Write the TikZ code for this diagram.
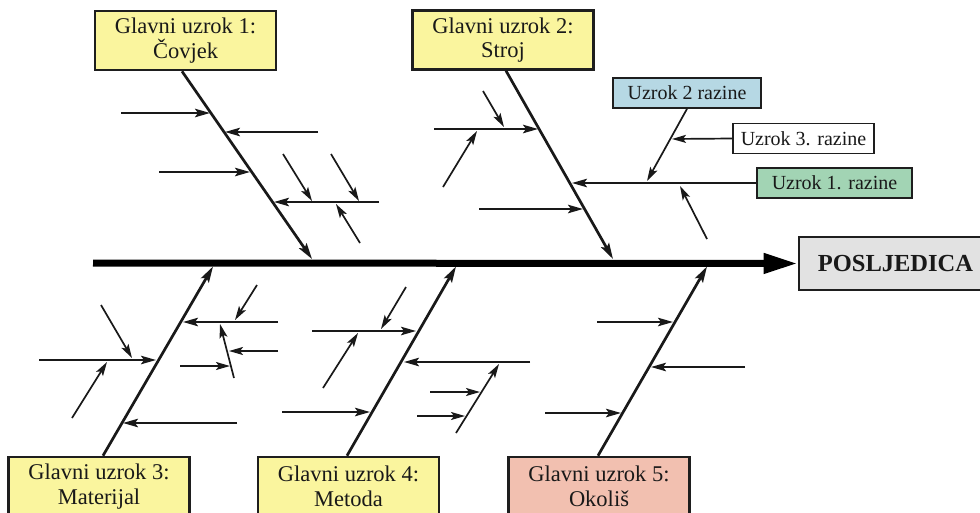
\documentclass[tikz,border=0pt]{standalone}
\usepackage{fontspec}
\setmainfont{Liberation Serif}
\usetikzlibrary{arrows.meta}
\definecolor{ybox}{RGB}{250,245,158}
\definecolor{bbox}{RGB}{182,216,228}
\definecolor{gbox}{RGB}{162,212,180}
\definecolor{pbox}{RGB}{242,192,176}
\definecolor{greybox}{RGB}{226,226,226}
\definecolor{edge}{RGB}{30,30,30}
\definecolor{ink}{RGB}{25,25,25}
\begin{document}
\begin{tikzpicture}[x=1pt,y=-1pt,
  mainbox/.style={draw=edge, line width=2.6pt, minimum width=181pt, minimum height=59pt,
    align=center, inner sep=0pt, text=ink, font=\fontsize{22.5}{24.5}\selectfont},
  smallbox/.style={draw=edge, line width=1.7pt, minimum height=30pt, inner sep=0pt,
    text=ink, font=\fontsize{20}{22}\selectfont},
  effectbox/.style={draw=edge, line width=2.6pt, fill=greybox, minimum width=193pt,
    minimum height=53pt, inner sep=0pt, text=ink, font=\bfseries\fontsize{24.5}{26}\selectfont},
  spine/.style={draw=black, line width=7pt, -{Triangle[length=34pt,width=19pt]}},
  bone/.style={draw=ink, line width=2.7pt, -{Stealth[length=16pt,width=9pt,inset=3pt]}},
  rib/.style={draw=ink, line width=2pt, -{Stealth[length=15pt,width=8.5pt,inset=3pt]}},
  twig/.style={draw=ink, line width=1.7pt, -{Stealth[length=14pt,width=8pt,inset=3pt]}},
]
\useasboundingbox (0,0) rectangle (980,512);
\begin{scope}
\clip (0,0) rectangle (980,512);

% boxes
\node[mainbox, fill=ybox] (b1) at (185.5,40.5) {Glavni uzrok 1:\\Čovjek};
\node[mainbox, fill=ybox] (b2) at (503,40) {Glavni uzrok 2:\\Stroj};
\node[mainbox, fill=ybox] (b3) at (99,486.5) {Glavni uzrok 3:\\Materijal};
\node[mainbox, fill=ybox] (b4) at (348.5,486.5) {Glavni uzrok 4:\\Metoda};
\node[mainbox, fill=pbox] (b5) at (599,486.5) {Glavni uzrok 5:\\Okoliš};
\node[effectbox] (eff) at (895.5,263.5) {POSLJEDICA};
\node[smallbox, fill=bbox, minimum width=148pt] (u2) at (687,93) {Uzrok 2 razine};
\node[smallbox, fill=white, minimum width=141pt] (u3) at (803.5,138.5) {Uzrok 3. razine};
\node[smallbox, fill=gbox, minimum width=155pt] (u1) at (834.5,183) {Uzrok 1. razine};

% spine
\coordinate (tail) at (93,263);
\draw[spine] (tail) -- (eff.west);

% main bones
\coordinate (s1) at (312,259);
\coordinate (s2) at (613,259);
\coordinate (s3) at (213,266.5);
\coordinate (s4) at (456,266.5);
\coordinate (s5) at (707,266.5);
\draw[bone] ([xshift=-3.5pt]b1.south) -- (s1);
\draw[bone] ([xshift=3pt]b2.south) -- (s2);
\draw[bone] ([xshift=4pt]b3.north) -- (s3);
\draw[bone] ([xshift=-1.5pt]b4.north) -- (s4);
\draw[bone] ([xshift=-1pt]b5.north) -- (s5);

% ---- bone 1 ----
\coordinate (a1) at (121,113);  \coordinate (a1t) at (210,113);
\coordinate (a2) at (318,132);  \coordinate (a2t) at (225,132);
\coordinate (a3) at (159,172);  \coordinate (a3t) at (250,172);
\coordinate (a4) at (379,202);  \coordinate (a4t) at (274,202);
\coordinate (a41) at (283,154); \coordinate (a41t) at (312,201);
\coordinate (a42) at (331,154); \coordinate (a42t) at (359,201);
\coordinate (a43) at (360,243); \coordinate (a43t) at (336,204);
\draw[rib] (a1) -- (a1t);
\draw[rib] (a2) -- (a2t);
\draw[rib] (a3) -- (a3t);
\draw[rib] (a4) -- (a4t);
\draw[twig] (a41) -- (a41t);
\draw[twig] (a42) -- (a42t);
\draw[twig] (a43) -- (a43t);

% ---- bone 2 ----
\coordinate (e1) at (434,129);  \coordinate (e1t) at (538,129);
\coordinate (e11) at (483,91);  \coordinate (e11t) at (504,127);
\coordinate (e12) at (443,187); \coordinate (e12t) at (477,131);
\coordinate (f1t) at (572,183);
\coordinate (f11t) at (647,181);
\coordinate (f12t) at (672,139);
\coordinate (f13) at (707,239); \coordinate (f13t) at (680,186);
\coordinate (g1) at (479,209);  \coordinate (g1t) at (583,209);
\draw[rib] (e1) -- (e1t);
\draw[twig] (e11) -- (e11t);
\draw[twig] (e12) -- (e12t);
\draw[rib] (u1.west) -- (f1t);
\draw[twig] (u2.south) -- (f11t);
\draw[twig] (u3.west) -- (f12t);
\draw[twig] (f13) -- (f13t);
\draw[rib] (g1) -- (g1t);

% ---- bone 3 ----
\coordinate (h1) at (39,360);   \coordinate (h1t) at (156,360);
\coordinate (h11) at (101,305); \coordinate (h11t) at (132,358);
\coordinate (h12) at (72,418);  \coordinate (h12t) at (107,362);
\coordinate (i1) at (278,322);  \coordinate (i1t) at (183,322);
\coordinate (i11) at (257,285); \coordinate (i11t) at (235,320);
\coordinate (i12) at (234,378); \coordinate (i12t) at (220,324);
\coordinate (i121) at (278,351); \coordinate (i121t) at (229,351);
\coordinate (i122) at (180,366); \coordinate (i122t) at (230,366);
\coordinate (j1) at (237,423);  \coordinate (j1t) at (123,423);
\draw[rib] (h1) -- (h1t);
\draw[twig] (h11) -- (h11t);
\draw[twig] (h12) -- (h12t);
\draw[rib] (i1) -- (i1t);
\draw[twig] (i11) -- (i11t);
\draw[twig] (i12) -- (i12t);
\draw[twig] (i121) -- (i121t);
\draw[twig] (i122) -- (i122t);
\draw[rib] (j1) -- (j1t);

% ---- bone 4 ----
\coordinate (k1) at (312,331);  \coordinate (k1t) at (416,331);
\coordinate (k11) at (406,287); \coordinate (k11t) at (381,329);
\coordinate (k12) at (323,388); \coordinate (k12t) at (358,333);
\coordinate (l1) at (282,412);  \coordinate (l1t) at (370,412);
\coordinate (m1) at (530,362);  \coordinate (m1t) at (404,362);
\coordinate (m11) at (456,433); \coordinate (m11t) at (499,364);
\coordinate (m111) at (430,392); \coordinate (m111t) at (480,392);
\coordinate (m112) at (417,416); \coordinate (m112t) at (465,416);
\draw[rib] (k1) -- (k1t);
\draw[twig] (k11) -- (k11t);
\draw[twig] (k12) -- (k12t);
\draw[rib] (l1) -- (l1t);
\draw[rib] (m1) -- (m1t);
\draw[twig] (m11) -- (m11t);
\draw[twig] (m111) -- (m111t);
\draw[twig] (m112) -- (m112t);

% ---- bone 5 ----
\coordinate (n1) at (597,322);  \coordinate (n1t) at (673,322);
\coordinate (o1) at (745,367);  \coordinate (o1t) at (651,367);
\coordinate (p1) at (545,413);  \coordinate (p1t) at (621,413);
\draw[rib] (n1) -- (n1t);
\draw[rib] (o1) -- (o1t);
\draw[rib] (p1) -- (p1t);
\end{scope}
\end{tikzpicture}
\end{document}
